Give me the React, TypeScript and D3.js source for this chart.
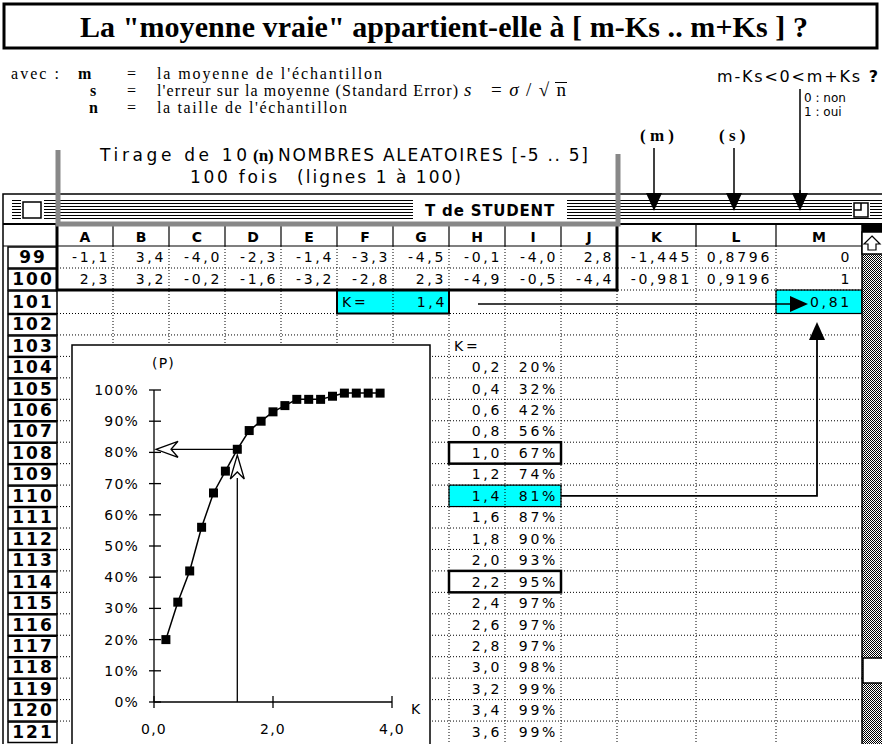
import React from 'react';
import * as d3 from 'd3';

// spreadsheet content
const columns = ['A', 'B', 'C', 'D', 'E', 'F', 'G', 'H', 'I', 'J', 'K', 'L', 'M'];
const rowLabels = [99, 100, 101, 102, 103, 104, 105, 106, 107, 108, 109, 110, 111, 112, 113, 114, 115, 116, 117, 118, 119, 120, 121];
const draws99 = [-1.1, 3.4, -4.0, -2.3, -1.4, -3.3, -4.5, -0.1, -4.0, 2.8];
const draws100 = [2.3, 3.2, -0.2, -1.6, -3.2, -2.8, 2.3, -4.9, -0.5, -4.4];
const means = [-1.445, -0.981];
const stdErrors = [0.8796, 0.9196];
const inside = [0, 1];
const kPicked = 1.4;
const pPicked = 0.81;

// K -> P table (chart uses all points, the sheet shows rows 104..121)
const kValues = [0.2, 0.4, 0.6, 0.8, 1.0, 1.2, 1.4, 1.6, 1.8, 2.0, 2.2, 2.4, 2.6, 2.8, 3.0, 3.2, 3.4, 3.6, 3.8];
const pValues = [0.20, 0.32, 0.42, 0.56, 0.67, 0.74, 0.81, 0.87, 0.90, 0.93, 0.95, 0.97, 0.97, 0.97, 0.98, 0.99, 0.99, 0.99, 0.99];
const boxedK = [1.0, 2.2];
const pTicks = [0, 0.1, 0.2, 0.3, 0.4, 0.5, 0.6, 0.7, 0.8, 0.9, 1.0];
const kTicks = [0, 2, 4];

const SANS = '"DejaVu Sans", Verdana, sans-serif';
const SERIF = '"Liberation Serif", "Times New Roman", serif';
const CYAN = '#00ffff';

const comma = (s: string) => s.replace('.', ',').replace('−', '-');
const f1 = (v: number) => comma(d3.format('.1f')(v));
const pct = (v: number) => d3.format('.0%')(v);

export default function App() {
  const width = 882;
  const height = 744;

  // sheet geometry
  const colX = d3.scaleLinear().domain([0, 10]).range([57, 617]);
  const colEdges = [...d3.range(11).map(i => colX(i)), 696, 776, 862];
  const rowY = d3.scaleLinear().domain([99, 101, 102, 122]).range([246, 290, 313.5, 742.5]);
  const rowMid = (r: number) => (rowY(r) + rowY(r + 1)) / 2;

  // chart scales
  const x = d3.scaleLinear().domain([0, 4]).range([154, 392]);
  const y = d3.scaleLinear().domain([0, 1]).range([702, 390]);
  const line = d3.line<number>().x((d, i) => x(kValues[i])).y(d => y(d));

  const cellText = { fontFamily: SANS, fontSize: 14, letterSpacing: 2.7 } as React.CSSProperties;
  const dotted = { stroke: '#000', strokeWidth: 1, strokeDasharray: '1 2' };

  const tableRows = kValues.slice(0, 18).map((k, i) => ({ row: 104 + i, k, p: pValues[i] }));
  const pickedRow = tableRows.find(d => d.k === kPicked)!;

  // right aligned cell text (the trailing letter spacing is part of the pad)
  const rightText = (col: number, row: number, txt: string, pad = 4, key?: string) => (
    <text key={key} x={colEdges[col + 1] - pad} y={rowMid(row) + 5} textAnchor="end" style={cellText}>{txt}</text>
  );

  const stripeYs = d3.range(7).map(i => 200.5 + i * 3);
  const geneva = { fontFamily: SANS, fontSize: 17, whiteSpace: 'pre' } as React.CSSProperties;

  return (
    <div style={{ position: 'fixed', left: 0, top: 0 }}>
      <svg width={width} height={height} style={{ display: 'block', background: '#fff' }}>
        <defs>
          <pattern id="stip" width="2" height="2" patternUnits="userSpaceOnUse">
            <rect width="2" height="2" fill="#fff" />
            <rect width="1" height="1" fill="#000" />
            <rect x="1" y="1" width="1" height="1" fill="#000" />
          </pattern>
        </defs>

        {/* title */}
        <rect x={4} y={4} width={873} height={44} fill="#fff" stroke="#000" strokeWidth={3} />
        <text x={80} y={37} textLength={728} lengthAdjust="spacing" fontFamily={SERIF} fontWeight="bold" fontSize={30}>
          La "moyenne vraie" appartient-elle à [ m-Ks .. m+Ks ] ?
        </text>

        {/* definitions */}
        <g fontFamily={SERIF} fontSize={16}>
          <text x={11} y={79} textLength={48} lengthAdjust="spacing">avec :</text>
          <text x={78} y={79} fontWeight="bold">m</text>
          <text x={90} y={96} fontWeight="bold">s</text>
          <text x={89} y={113} fontWeight="bold">n</text>
          <text x={127} y={79}>=</text>
          <text x={127} y={96}>=</text>
          <text x={127} y={113}>=</text>
          <text x={157} y={79} textLength={225} lengthAdjust="spacing">la moyenne de l'échantillon</text>
          <text x={157} y={96} textLength={301} lengthAdjust="spacing">l'erreur sur la moyenne (Standard Error)</text>
          <text x={157} y={113} textLength={190} lengthAdjust="spacing">la taille de l'échantillon</text>
          <text x={464} y={96} textLength={102} lengthAdjust="spacing" fontSize={19}>
            <tspan fontStyle="italic">s</tspan> =<tspan fontStyle="italic">σ</tspan>/√n
          </text>
        </g>
        <line x1={555} x2={567} y1={82.5} y2={82.5} stroke="#000" strokeWidth={1} />

        <text x={717} y={82} textLength={161} lengthAdjust="spacing" fontFamily={SANS} fontSize={16}>
          m-Ks&lt;0&lt;m+Ks <tspan fontWeight="bold">?</tspan>
        </text>
        <line x1={800} x2={800} y1={89} y2={196} stroke="#000" strokeWidth={1.5} />
        <text x={804} y={102} fontFamily={SANS} fontSize={12} style={{ whiteSpace: 'pre' }}>0 : non</text>
        <text x={804} y={116} fontFamily={SANS} fontSize={12} style={{ whiteSpace: 'pre' }}>1 : oui</text>

        <text x={640} y={141} fontFamily={SERIF} fontWeight="bold" fontSize={17}>( m )</text>
        <text x={719} y={141} fontFamily={SERIF} fontWeight="bold" fontSize={17}>( s )</text>

        <text x={100} y={161} textLength={147} lengthAdjust="spacing" style={geneva}>Tirage de 10</text>
        <text x={253} y={161} fontFamily={SERIF} fontWeight="bold" fontSize={17}>(n)</text>
        <text x={278} y={161} textLength={310} lengthAdjust="spacing" style={geneva}>NOMBRES ALEATOIRES [-5 .. 5]</text>
        <text x={190} y={183} textLength={87} lengthAdjust="spacing" style={geneva}>100 fois</text>
        <text x={297} y={183} textLength={164} lengthAdjust="spacing" style={geneva}>(lignes 1 à 100)</text>

        {/* window frame + title bar */}
        <rect x={3} y={194} width={900} height={600} fill="#fff" stroke="#000" strokeWidth={1.5} />
        {stripeYs.map(sy => (
          <g key={sy} stroke="#000" strokeWidth={1}>
            <line x1={12} x2={21} y1={sy} y2={sy} />
            <line x1={44} x2={882} y1={sy} y2={sy} />
          </g>
        ))}
        <rect x={23} y={202} width={18} height={16} fill="#fff" stroke="#000" strokeWidth={1.5} />
        <rect x={413} y={198} width={154} height={24} fill="#fff" />
        <text x={490} y={216} textAnchor="middle" fontFamily={SANS} fontWeight="bold" fontSize={15} letterSpacing={0.8}>
          T de STUDENT
        </text>
        <rect x={852} y={202} width={18} height={16} fill="#fff" />
        <rect x={854} y={203} width={14} height={14} fill="#fff" stroke="#000" strokeWidth={1.5} />
        <path d="M854,210 H861 V203" fill="none" stroke="#000" strokeWidth={1.5} />
        <line x1={3} x2={882} y1={224} y2={224} stroke="#000" strokeWidth={2} />

        {/* header row */}
        <line x1={3} x2={862} y1={246} y2={246} stroke="#000" strokeWidth={1.2} />
        {colEdges.slice(1, -1).map(cx => (
          <line key={cx} x1={cx} x2={cx} y1={225} y2={246} stroke="#000" strokeWidth={1.2} />
        ))}
        {columns.map((c, i) => (
          <text key={c} x={(colEdges[i] + colEdges[i + 1]) / 2} y={242} textAnchor="middle"
            fontFamily={SANS} fontWeight="bold" fontSize={14}>{c}</text>
        ))}

        {/* row headers */}
        {rowLabels.map(r => (
          <g key={r}>
            <rect x={8} y={rowY(r) + 1} width={49} height={rowY(r + 1) - rowY(r) - 1} fill="#fff" stroke="#000" strokeWidth={1.5} />
            <text x={33} y={rowMid(r) + 6} textAnchor="middle" fontFamily={SANS} fontWeight="bold" fontSize={17} letterSpacing={2}>{r}</text>
          </g>
        ))}

        {/* cyan cells */}
        <rect x={colEdges[5]} y={rowY(101)} width={colEdges[7] - colEdges[5]} height={rowY(102) - rowY(101)} fill={CYAN} />
        <rect x={colEdges[12]} y={rowY(101)} width={colEdges[13] - colEdges[12]} height={rowY(102) - rowY(101)} fill={CYAN} />
        <rect x={colEdges[7]} y={rowY(pickedRow.row)} width={colEdges[9] - colEdges[7]} height={rowY(pickedRow.row + 1) - rowY(pickedRow.row)} fill={CYAN} />

        {/* dotted grid */}
        {colEdges.slice(1, -1).map(cx => (
          <line key={'v' + cx} x1={cx} x2={cx} y1={246} y2={744} style={dotted} />
        ))}
        {rowLabels.slice(1).map(r => (
          <line key={'h' + r} x1={57} x2={862} y1={rowY(r)} y2={rowY(r)} style={dotted} />
        ))}

        {/* thick borders */}
        <path d={`M${colEdges[0]},225 V${rowY(101)} H${colEdges[10]} V225`} fill="none" stroke="#000" strokeWidth={3} />
        <rect x={colEdges[5]} y={rowY(101)} width={colEdges[7] - colEdges[5]} height={rowY(102) - rowY(101)} fill="none" stroke="#000" strokeWidth={2} />
        <rect x={colEdges[12]} y={rowY(101)} width={colEdges[13] - colEdges[12]} height={rowY(102) - rowY(101)} fill="none" stroke="#000" strokeWidth={1.2} />
        <rect x={colEdges[7]} y={rowY(pickedRow.row)} width={colEdges[9] - colEdges[7]} height={rowY(pickedRow.row + 1) - rowY(pickedRow.row)} fill="none" stroke="#000" strokeWidth={1.2} />
        {tableRows.filter(d => boxedK.includes(d.k)).map(d => (
          <rect key={'b' + d.row} x={colEdges[7]} y={rowY(d.row)} width={colEdges[9] - colEdges[7]} height={rowY(d.row + 1) - rowY(d.row)} fill="none" stroke="#000" strokeWidth={2.5} />
        ))}

        {/* cell values */}
        {draws99.map((v, i) => rightText(i, 99, f1(v), 3, 'a' + i))}
        {draws100.map((v, i) => rightText(i, 100, f1(v), 3, 'b' + i))}
        {means.map((v, i) => rightText(10, 99 + i, comma(d3.format('.3f')(v)), 4, 'm' + i))}
        {stdErrors.map((v, i) => rightText(11, 99 + i, comma(d3.format('.4f')(v)), 4, 's' + i))}
        {inside.map((v, i) => rightText(12, 99 + i, String(v), 10, 'o' + i))}
        <text x={colEdges[5] + 5} y={rowMid(101) + 5} style={cellText}>K=</text>
        {rightText(6, 101, f1(kPicked), 2)}
        <text x={colEdges[7] + 5} y={rowMid(103) + 5} style={cellText}>K=</text>
        {tableRows.map(d => (
          <g key={'t' + d.row}>
            {rightText(7, d.row, f1(d.k), 3)}
            {rightText(8, d.row, pct(d.p), 3)}
          </g>
        ))}
        <text x={810} y={rowMid(101) + 5} style={cellText}>{comma(d3.format('.2f')(pPicked))}</text>

        {/* arrows on the sheet */}
        <line x1={478} x2={792} y1={304} y2={304} stroke="#000" strokeWidth={1.5} />
        <path d="M790,296 L808,304 L790,312 Z" fill="#000" />
        <path d={`M${colEdges[9]},${rowMid(pickedRow.row)} H817 V338`} fill="none" stroke="#000" strokeWidth={1.8} />
        <path d="M809,340 L817,322 L825,340 Z" fill="#000" />

        {/* chart */}
        <rect x={72} y={345} width={358} height={420} fill="#fff" stroke="#000" strokeWidth={1.5} />
        <g fontFamily={SANS} fontSize={14} letterSpacing={1.2}>
          <text x={152} y={368}>(P)</text>
          {pTicks.map(t => (
            <g key={t}>
              <line x1={149} x2={161} y1={y(t)} y2={y(t)} stroke="#000" strokeWidth={1.3} />
              <text x={139} y={y(t) + 5} textAnchor="end">{pct(t)}</text>
            </g>
          ))}
          {kTicks.map(t => (
            <g key={t}>
              <line x1={x(t)} x2={x(t)} y1={696} y2={708} stroke="#000" strokeWidth={1.3} />
              <text x={x(t)} y={734} textAnchor="middle">{comma(d3.format('.1f')(t))}</text>
            </g>
          ))}
          <text x={411} y={714}>K</text>
        </g>
        <line x1={x(0)} x2={x(0)} y1={y(1)} y2={y(0)} stroke="#000" strokeWidth={1.3} />
        <line x1={x(0)} x2={x(4)} y1={y(0)} y2={y(0)} stroke="#000" strokeWidth={1.3} />

        {/* reading K=1,4 on the curve */}
        <line x1={x(kPicked)} x2={x(kPicked)} y1={y(0)} y2={478} stroke="#000" strokeWidth={1.3} />
        <path d={`M${x(kPicked)},455 L${x(kPicked) + 7},479 L${x(kPicked)},472 L${x(kPicked) - 7},479 Z`} fill="#fff" stroke="#000" strokeWidth={1.3} />
        <line x1={172} x2={x(kPicked)} y1={y(pPicked)} y2={y(pPicked)} stroke="#000" strokeWidth={1.3} />
        <path d={`M${x(0) + 2},${y(pPicked)} L178,${y(pPicked) - 8} L171,${y(pPicked)} L178,${y(pPicked) + 8} Z`} fill="#fff" stroke="#000" strokeWidth={1.3} />

        <path d={line(pValues) || ''} fill="none" stroke="#000" strokeWidth={1.5} />
        {pValues.map((p, i) => (
          <rect key={i} x={x(kValues[i]) - 4.5} y={y(p) - 4.5} width={9} height={9} fill="#000" />
        ))}

        {/* gray bracket over the sheet */}
        <path d="M58,150 V224 H618 V154" fill="none" stroke="#888" strokeWidth={5} />

        {/* arrows from the labels */}
        {[[654, 148], [734, 148], [800, 190]].map(([ax, y0]) => (
          <g key={ax}>
            <line x1={ax} x2={ax} y1={y0} y2={196} stroke="#000" strokeWidth={1.5} />
            <path d={`M${ax - 8},193 L${ax},211 L${ax + 8},193 Z`} fill="#000" />
          </g>
        ))}

        {/* scroll bar */}
        <rect x={862} y={225} width={22} height={520} fill="url(#stip)" stroke="#000" strokeWidth={1.5} />
        <rect x={862} y={225} width={22} height={7} fill="#000" />
        <rect x={862} y={232} width={22} height={22} fill="#fff" stroke="#000" strokeWidth={1.5} />
        <path d="M872,236 L880,244 L876,244 L876,250 L868,250 L868,244 L864,244 Z" fill="#fff" stroke="#000" strokeWidth={1.2} />
        <rect x={863} y={658} width={21} height={25} fill="#fff" stroke="#000" strokeWidth={1.5} />
      </svg>
    </div>
  );
}
